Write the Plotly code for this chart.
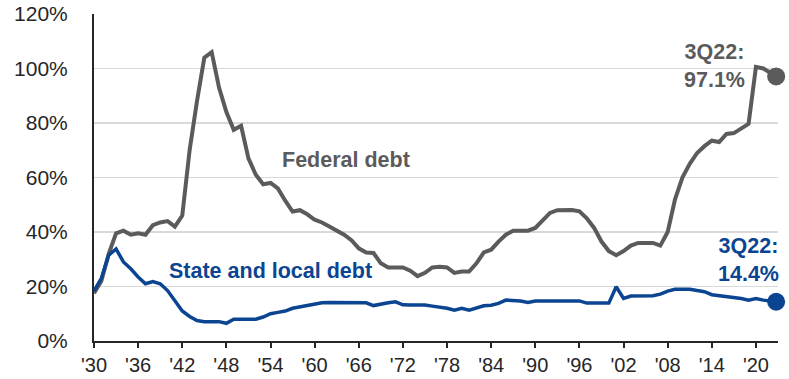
import plotly.graph_objects as go

years = list(range(1930, 2022)) + [2022.75]

federal = [17.5, 22, 32, 39.5, 40.5, 39, 39.5, 39, 42.5, 43.5,
           44, 42, 46, 70, 88, 104, 106, 93, 84, 77.5,
           79, 67, 61, 57.5, 58, 56, 51.5, 47.5, 48, 46.5,
           44.5, 43.5, 42, 40.5, 39, 37, 34, 32.5, 32.3, 28.5,
           27, 27, 27, 25.8, 23.8, 25, 27, 27.2, 27, 25,
           25.5, 25.5, 28.5, 32.5, 33.5, 36.5, 39, 40.5, 40.5, 40.5,
           41.5, 44.5, 47, 48, 48.1, 48.1, 47.6, 45, 41.5, 36.5,
           33, 31.5, 33, 35, 36, 36, 36, 35, 40, 52,
           60, 65, 69, 71.5, 73.5, 73, 76, 76.3, 77.8, 79.7,
           100.6, 100, 97.1]

state_local = [18.3, 23, 31.5, 33.8, 29, 26.5, 23.5, 21, 21.8, 21,
               18.5, 15, 11, 9, 7.5, 7.1, 7.1, 7.1, 6.5, 8,
               8, 8, 8, 8.8, 10, 10.5, 11, 12, 12.5, 13,
               13.3, 14, 14.1, 14.1, 14.1, 14.1, 14.1, 14, 13, 13.6,
               14, 14.4, 13.3, 13.2, 13.2, 13.2, 12.8, 12.5, 12, 11.3,
               12, 11.3, 12, 12.9, 13.1, 13.8, 15, 15, 14.7, 14.1,
               14.7, 14.7, 14.7, 14.7, 14.7, 14.7, 14.7, 13.9, 13.9, 13.9,
               13.9, 19.9, 15.6, 16.5, 16.6, 16.6, 16.6, 17.2, 18.3, 19,
               19, 19, 18.5, 18.1, 17, 16.7, 16.4, 16.2, 15.6, 15,
               15.6, 15, 14.4]

tick_years = list(range(1930, 2021, 6))
tick_labels = ["'" + str(y)[2:] for y in tick_years]
y_ticks = [0, 20, 40, 60, 80, 100, 120]
y_labels = [f"{v}%" for v in y_ticks]

GRAY = "#5b5b5b"
BLUE = "#0b4592"
FONT = "Liberation Sans, Arial, sans-serif"

fig = go.Figure()
fig.add_trace(go.Scatter(x=years, y=federal, mode="lines", cliponaxis=False,
                         line=dict(color=GRAY, width=4), hoverinfo="skip"))
fig.add_trace(go.Scatter(x=years, y=state_local, mode="lines", cliponaxis=False,
                         line=dict(color=BLUE, width=3.5), hoverinfo="skip"))
fig.add_trace(go.Scatter(x=[years[-1]], y=[federal[-1]], mode="markers",
                         marker=dict(color=GRAY, size=18), hoverinfo="skip", cliponaxis=False))
fig.add_trace(go.Scatter(x=[years[-1]], y=[state_local[-1]], mode="markers",
                         marker=dict(color=BLUE, size=18), hoverinfo="skip", cliponaxis=False))

fig.add_annotation(x=1964.2, y=66.6, text="<b>Federal debt</b>", showarrow=False,
                   font=dict(color=GRAY, size=21.5, family=FONT))
fig.add_annotation(x=1954.0, y=25.8, text="<b>State and local debt</b>", showarrow=False,
                   font=dict(color=BLUE, size=21.5, family=FONT))
fig.add_annotation(x=2014.3, y=100.8, text="<b>3Q22:<br>97.1%</b>", showarrow=False,
                   font=dict(color=GRAY, size=21.5, family=FONT))
fig.add_annotation(x=2019.05, y=29.6, text="<b>3Q22:<br>14.4%</b>", showarrow=False,
                   font=dict(color=BLUE, size=21.5, family=FONT))

fig.update_layout(
    width=789, height=379,
    margin=dict(l=94, r=11, t=14, b=38, autoexpand=False),
    paper_bgcolor="white", plot_bgcolor="white",
    showlegend=False,
    font=dict(family=FONT, size=21, color="#262626"),
)
fig.update_xaxes(range=[1930, 2023], tickvals=tick_years, ticktext=tick_labels,
                 automargin=False,
                 showgrid=False, showline=True, linecolor="#262626", linewidth=2,
                 ticks="outside", ticklen=5, tickwidth=2, tickcolor="#262626",
                 ticklabelstandoff=0,
                 zeroline=False, tickfont=dict(size=20))
fig.update_yaxes(range=[0, 120], tickvals=y_ticks, ticktext=y_labels,
                 automargin=False,
                 showgrid=True, gridcolor="#d9d9d9", gridwidth=1.5,
                 showline=True, linecolor="#262626", linewidth=2,
                 ticklabelstandoff=20,
                 zeroline=False, ticks="", tickfont=dict(size=21))

fig.write_html("out.html",
               config={"displayModeBar": False, "staticPlot": True},
               post_script="document.body.style.margin='0';document.body.style.overflow='hidden';")
